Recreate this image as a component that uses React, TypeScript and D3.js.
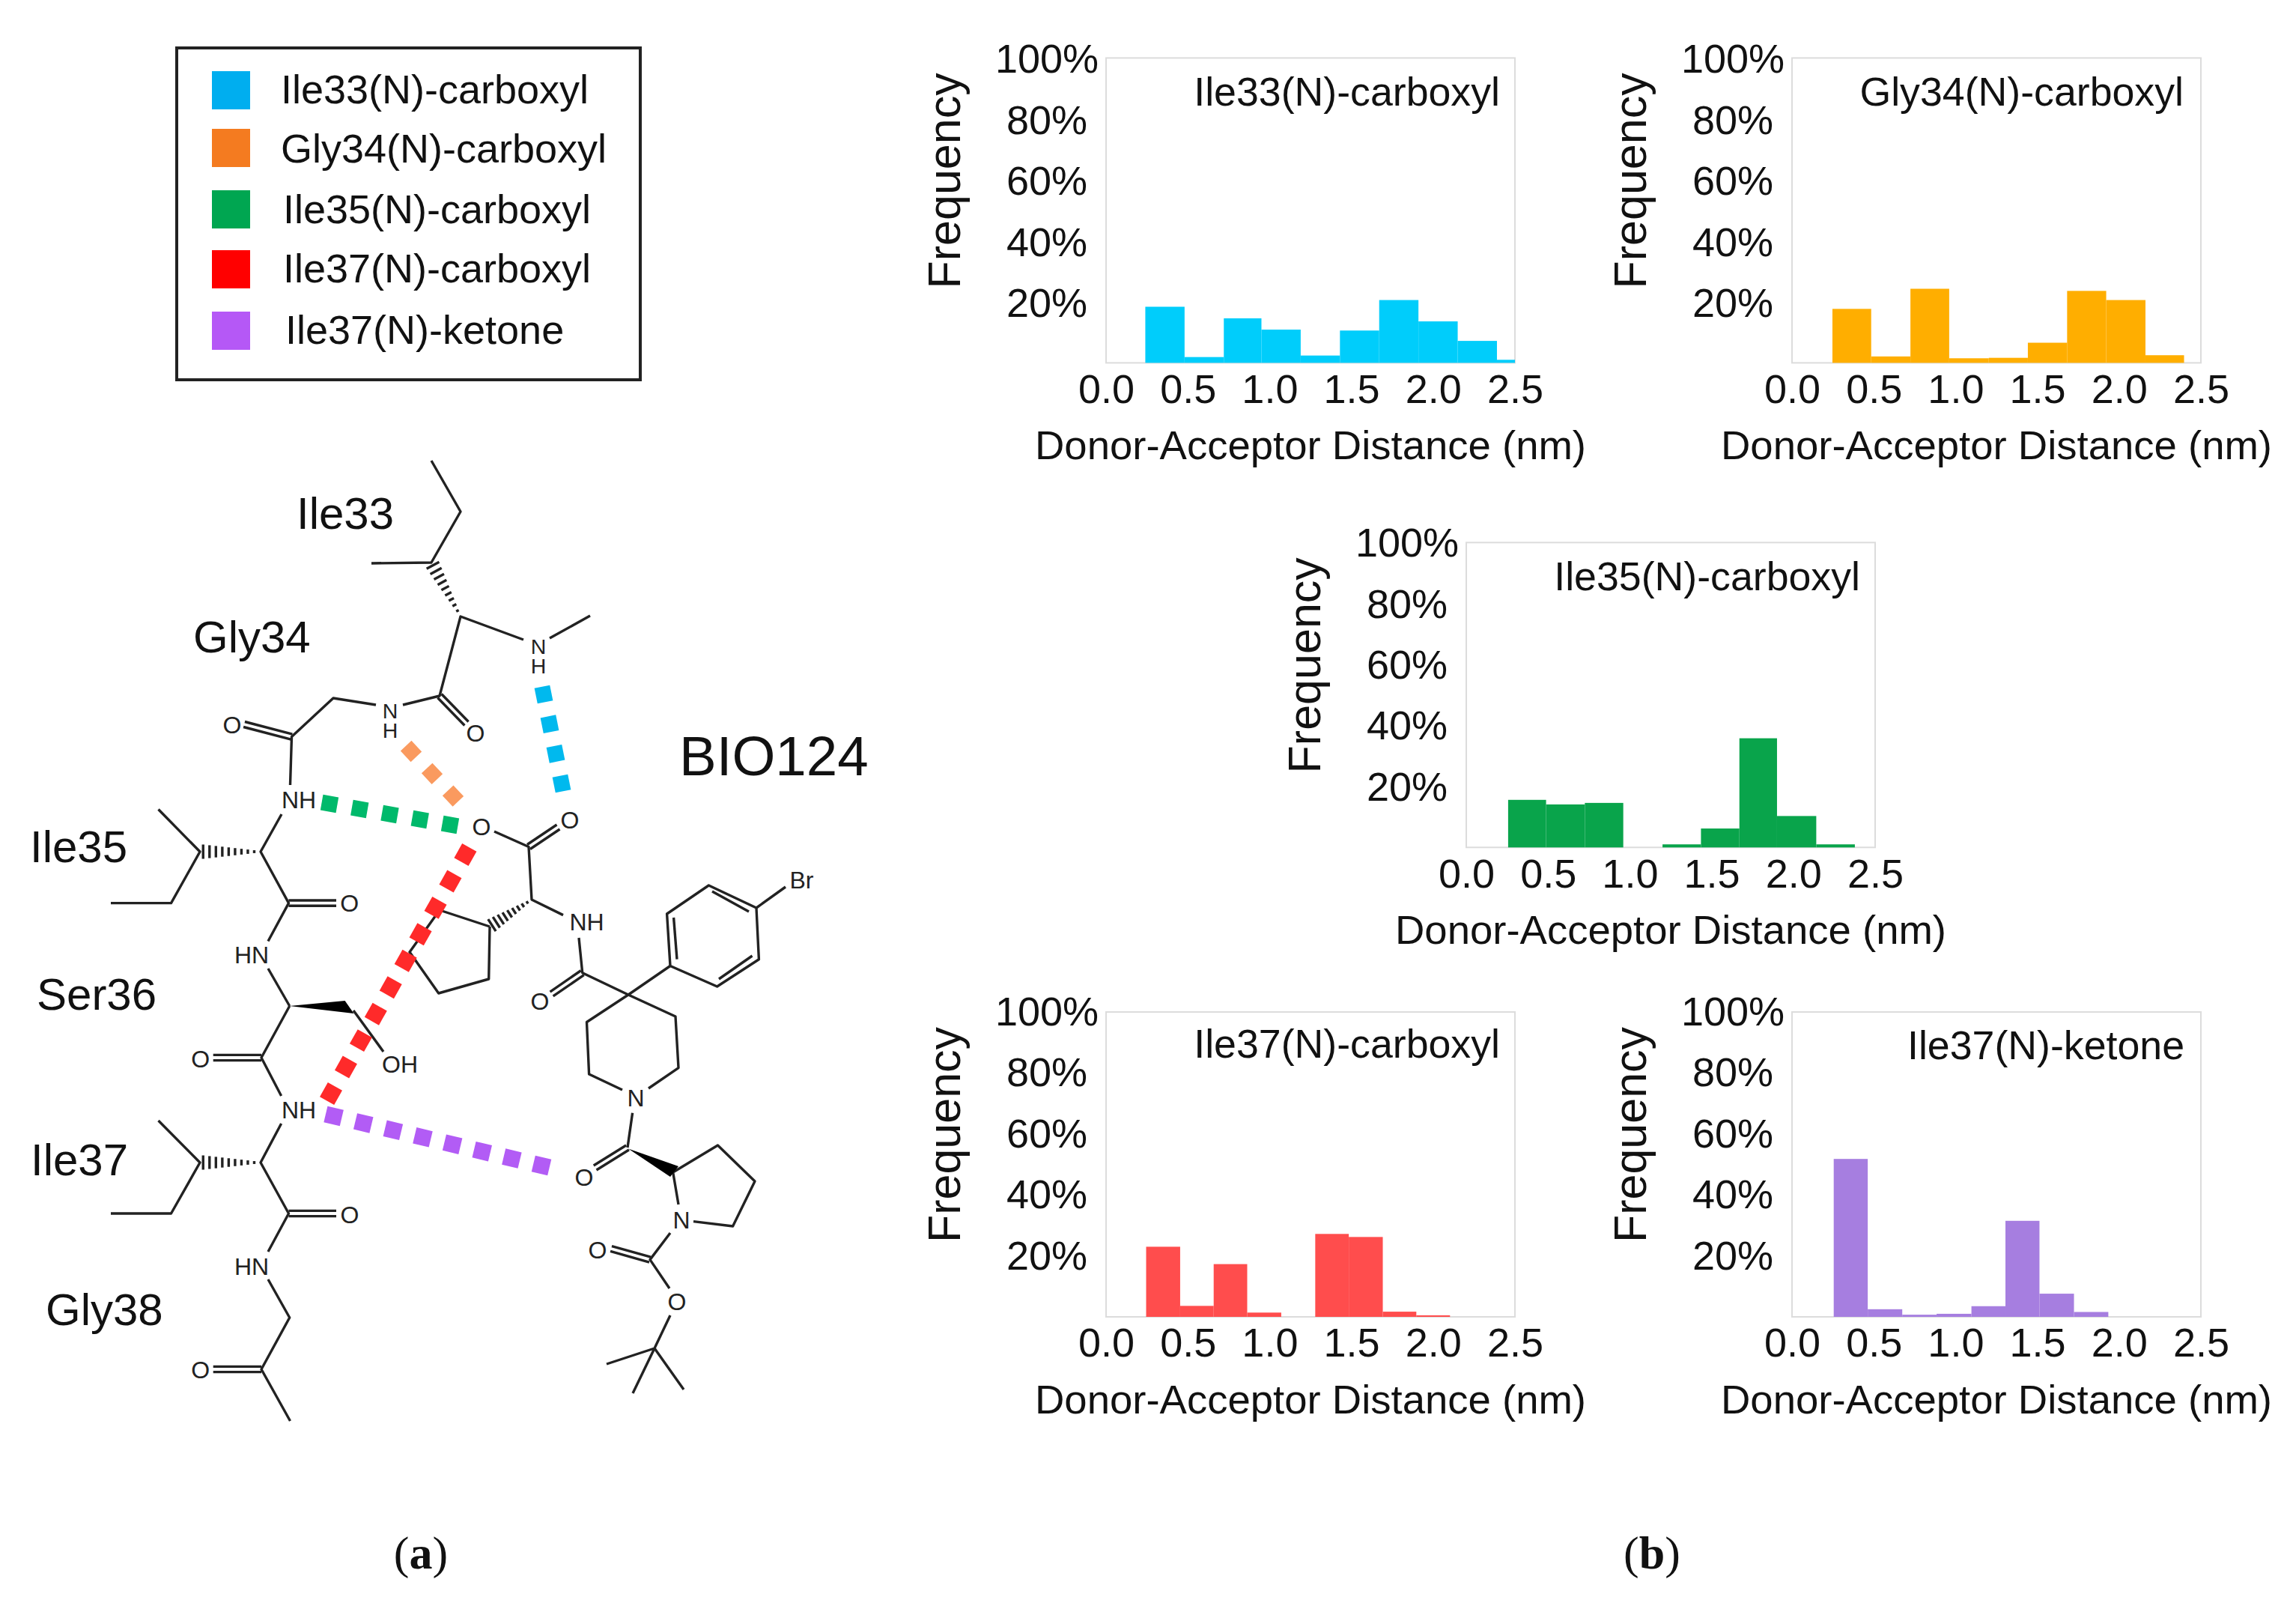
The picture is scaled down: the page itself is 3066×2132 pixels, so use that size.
import React, { useEffect, useRef } from "react"
import * as d3 from "d3"

type Pt = [number, number]

const WIDTH = 3066
const HEIGHT = 2132
const SANS = "'Liberation Sans', Arial, sans-serif"
const SERIF = "'Liberation Serif', 'Times New Roman', serif"

// histogram data, bin edges in nm and frequency in %
const edgesIle33 = [0.24, 0.48, 0.72, 0.95, 1.19, 1.43, 1.67, 1.91, 2.15, 2.39, 2.5]
const freqIle33 = [18.4, 1.9, 14.6, 10.9, 2.4, 10.6, 20.6, 13.6, 7.2, 1.0]

const edgesGly34 = [0.247, 0.484, 0.724, 0.961, 1.203, 1.442, 1.682, 1.921, 2.161, 2.397]
const freqGly34 = [17.7, 2.1, 24.3, 1.5, 1.65, 6.6, 23.6, 20.6, 2.5]

const edgesIle35 = [0.256, 0.488, 0.725, 0.96, 1.2, 1.435, 1.67, 1.9, 2.14, 2.376]
const freqIle35 = [15.6, 14.1, 14.6, 0, 1.0, 6.2, 35.8, 10.3, 1.0]

const edgesIle37 = [0.245, 0.453, 0.658, 0.863, 1.071, 1.279, 1.484, 1.692, 1.897, 2.103]
const freqIle37 = [23, 3.6, 17.3, 1.4, 0, 27.2, 26.2, 1.7, 0.5]

const edgesKetone = [0.255, 0.463, 0.674, 0.884, 1.097, 1.305, 1.513, 1.724, 1.934]
const freqKetone = [51.8, 2.5, 0.7, 1.0, 3.5, 31.5, 7.6, 1.6]

const xTicks = [0, 0.5, 1, 1.5, 2, 2.5]
const yTicks = [20, 40, 60, 80, 100]

const legendNames = [
  "Ile33(N)-carboxyl",
  "Gly34(N)-carboxyl",
  "Ile35(N)-carboxyl",
  "Ile37(N)-carboxyl",
  "Ile37(N)-ketone",
]
const legendColors = ["#00aeef", "#f47b20", "#00a651", "#ff0000", "#b558f6"]
const legendTextX = [375, 375, 378, 378, 381]
const legendSwatchY = [95, 172, 254, 334, 416]
const legendBaseline = [138, 217, 298, 377, 459]

const panels = [
  { name: legendNames[0], edges: edgesIle33, freq: freqIle33, color: "#00cdfb", left: 1477, top: 77.4, titleEnd: 2003, titleY: 140.7, tickShift: 0 },
  { name: legendNames[1], edges: edgesGly34, freq: freqGly34, color: "#ffae00", left: 2393, top: 77.4, titleEnd: 2916, titleY: 140.7, tickShift: 0 },
  { name: legendNames[2], edges: edgesIle35, freq: freqIle35, color: "#09a44b", left: 1958, top: 724.3, titleEnd: 2484, titleY: 787.5, tickShift: -1 },
  { name: legendNames[3], edges: edgesIle37, freq: freqIle37, color: "#ff4d4d", left: 1477, top: 1351, titleEnd: 2003, titleY: 1412, tickShift: -2 },
  { name: legendNames[4], edges: edgesKetone, freq: freqKetone, color: "#a67ee0", left: 2393, top: 1351, titleEnd: 2917, titleY: 1413.6, tickShift: -2 },
]

// molecule in page pixels
const skeleton: Pt[][] = [
  [[576, 615], [615, 683], [576, 751], [496, 752]],
  [[699, 854], [615, 823], [587, 929], [538, 941]],
  [[734, 852], [788, 822]],
  [[502, 941], [445, 932], [389.5, 983.6], [387.5, 1048]],
  [[376, 1087], [348, 1137], [385.5, 1205.6], [358, 1256.5]],
  [[211.5, 1080.5], [267, 1137], [228.5, 1205.6], [148, 1205.6]],
  [[358, 1293], [386.7, 1343]],
  [[472, 1349], [512, 1404]],
  [[386.7, 1343], [349, 1412], [375.6, 1463]],
  [[375.6, 1500], [348, 1552], [385.5, 1620], [358, 1671]],
  [[211.5, 1496], [267, 1552], [228.5, 1620], [148, 1620]],
  [[358, 1708], [386.7, 1759], [349, 1828], [387.5, 1897]],
  [[660, 1110], [706, 1130.5], [710, 1201], [752, 1221.6]],
  [[654, 1237], [652.7, 1307], [585.7, 1326], [547, 1271], [587, 1215], [654, 1237]],
  [[773, 1252], [777.7, 1298.7], [839, 1328], [895, 1289.5]],
  [[895, 1289.5], [890.6, 1220], [946.4, 1182], [1010, 1212], [1013.4, 1280.7], [957.6, 1317], [895, 1289.5]],
  [[899.6, 1225], [904, 1280.7]],
  [[951, 1190], [1000, 1217]],
  [[960, 1307], [1004.5, 1276]],
  [[1010, 1212], [1049, 1184]],
  [[839, 1328], [783.5, 1364.5], [786.6, 1434], [831, 1455]],
  [[839, 1328], [902, 1357], [906, 1425.7], [866, 1453]],
  [[844.6, 1485.7], [838, 1532]],
  [[906, 1608], [898.7, 1565], [958.5, 1529], [1008, 1577], [978.6, 1637], [926, 1630.6]],
  [[895, 1646], [868, 1681.6], [894, 1720]],
  [[895, 1756], [874, 1800], [810, 1821]],
  [[874, 1800], [845, 1860]],
  [[874, 1800], [913, 1855]],
]

const doubleBonds: [Pt, Pt][] = [
  [[587, 929], [623, 966]],
  [[389.5, 983.6], [326, 967]],
  [[385.5, 1205.6], [449, 1205.6]],
  [[349, 1412], [284.7, 1412]],
  [[385.5, 1620], [449, 1620]],
  [[349, 1828], [284.7, 1828]],
  [[706, 1130.5], [745.5, 1104]],
  [[777.7, 1298.7], [736.6, 1327]],
  [[838, 1532], [794.6, 1559]],
  [[868, 1681.6], [816, 1667]],
]

const hashBonds: [Pt, Pt][] = [
  [[615, 823], [576, 751]],
  [[348, 1137], [267, 1137]],
  [[348, 1552], [267, 1552]],
  [[710, 1201], [654, 1237]],
]

const wedges: [Pt, Pt, Pt][] = [
  [[386.7, 1343], [460.6, 1336], [472.5, 1353]],
  [[839, 1533.5], [906, 1557], [895, 1571]],
]

const atoms: [string, number, number][] = [
  ["O", 635, 978], ["O", 310, 967],
  ["NH", 399, 1067], ["O", 466.6, 1205.6],
  ["HN", 336, 1274.4], ["OH", 534, 1420],
  ["O", 267.7, 1413.5], ["NH", 399, 1481.6],
  ["O", 467, 1621], ["HN", 336, 1690],
  ["O", 267.7, 1828.5], ["O", 643, 1103],
  ["O", 761, 1094], ["NH", 783.5, 1230],
  ["O", 721, 1336.5], ["Br", 1070.5, 1174],
  ["N", 849, 1465], ["O", 780, 1571],
  ["N", 910, 1628.6], ["O", 798, 1668],
  ["O", 904, 1737.5],
]

// N over H, written as one text
const stackedNH: Pt[] = [
  [719, 863],
  [521, 949],
]

const residues: [string, number, number][] = [
  ["Ile33", 396, 706],
  ["Gly34", 258, 871],
  ["Ile35", 40, 1151],
  ["Ser36", 49, 1348],
  ["Ile37", 41, 1569],
  ["Gly38", 61, 1769],
]

// hydrogen bond dashes, first and last square centre plus the count
const hbonds: { color: string; from: Pt; to: Pt; count: number; size: number }[] = [
  { color: "#00b9ee", from: [726, 927], to: [750, 1046], count: 4, size: 21 },
  { color: "#fa9a5f", from: [549, 1003], to: [605, 1062.6], count: 3, size: 20 },
  { color: "#00b96b", from: [440, 1073], to: [601, 1101], count: 5, size: 21 },
  { color: "#ff2a2a", from: [621.4, 1141], to: [442, 1460], count: 10, size: 22 },
  { color: "#b25cf5", from: [445.6, 1490], to: [723, 1556], count: 8, size: 22 },
]

const PLOT_W = 546
const PLOT_H = 407

function drawPanel(svg, p) {
  const g = svg.append("g").attr("transform", `translate(${p.left},${p.top})`)
  const x = d3.scaleLinear().domain([0, 2.5]).range([0, PLOT_W])
  const y = d3.scaleLinear().domain([0, 100]).range([PLOT_H, 0])

  g.append("rect")
    .attr("width", PLOT_W)
    .attr("height", PLOT_H)
    .attr("fill", "none")
    .attr("stroke", "#dcdcdc")
    .attr("stroke-width", 2)

  g.selectAll("rect.bar")
    .data(p.freq)
    .enter()
    .append("rect")
    .attr("class", "bar")
    .attr("x", (d, i) => x(p.edges[i]))
    .attr("width", (d, i) => x(p.edges[i + 1] ?? p.edges[i] + 0.21) - x(p.edges[i]))
    .attr("y", d => y(d))
    .attr("height", d => y(0) - y(d))
    .attr("fill", p.color)

  const xAxis = d3
    .axisBottom(x)
    .tickValues(xTicks)
    .tickSize(0)
    .tickPadding(15)
    .tickFormat(d3.format(".1f"))
  const yAxis = d3
    .axisLeft(y)
    .tickValues(yTicks)
    .tickSize(0)
    .tickFormat(d => d + "%")

  const xg = g.append("g").attr("transform", `translate(0,${PLOT_H})`).call(xAxis)
  const yg = g.append("g").call(yAxis)
  xg.select(".domain").remove()
  yg.select(".domain").remove()
  xg.selectAll("text").attr("font-size", 54).attr("font-family", SANS).attr("fill", "#111")
  yg.selectAll("text")
    .attr("font-size", 54)
    .attr("font-family", SANS)
    .attr("fill", "#111")
    .attr("text-anchor", "middle")
    .attr("x", -79)
    .attr("y", p.tickShift)
    .attr("dy", "0.36em")

  g.append("text")
    .attr("x", PLOT_W / 2)
    .attr("y", PLOT_H + 129)
    .attr("text-anchor", "middle")
    .attr("font-size", 54.5)
    .attr("font-family", SANS)
    .attr("fill", "#111")
    .text("Donor-Acceptor Distance (nm)")

  g.append("text")
    .attr("transform", "translate(-195,164) rotate(-90)")
    .attr("text-anchor", "middle")
    .attr("font-size", 61)
    .attr("font-family", SANS)
    .attr("fill", "#111")
    .text("Frequency")

  svg.append("text")
    .attr("x", p.titleEnd)
    .attr("y", p.titleY)
    .attr("text-anchor", "end")
    .attr("font-size", 53.7)
    .attr("font-family", SANS)
    .attr("fill", "#111")
    .text(p.name)
}

function drawLegend(svg) {
  svg.append("rect")
    .attr("x", 236)
    .attr("y", 64)
    .attr("width", 619)
    .attr("height", 443)
    .attr("fill", "#fff")
    .attr("stroke", "#222")
    .attr("stroke-width", 4)

  svg.selectAll("rect.swatch")
    .data(legendColors)
    .enter()
    .append("rect")
    .attr("class", "swatch")
    .attr("x", 283)
    .attr("y", (d, i) => legendSwatchY[i])
    .attr("width", 51)
    .attr("height", 51)
    .attr("fill", d => d)

  svg.selectAll("text.legend")
    .data(legendNames)
    .enter()
    .append("text")
    .attr("class", "legend")
    .attr("x", (d, i) => legendTextX[i])
    .attr("y", (d, i) => legendBaseline[i])
    .attr("font-size", 54)
    .attr("font-family", SANS)
    .attr("fill", "#111")
    .text(d => d)
}

function drawMolecule(svg) {
  const g = svg.append("g").attr("fill", "none").attr("stroke", "#222").attr("stroke-width", 3.4)
  const line = d3.line<Pt>()

  skeleton.forEach(path => g.append("path").attr("d", line(path)).attr("stroke-linejoin", "round"))

  doubleBonds.forEach(([a, b]) => {
    const len = Math.hypot(b[0] - a[0], b[1] - a[1])
    const ox = (-(b[1] - a[1]) / len) * 3.6
    const oy = ((b[0] - a[0]) / len) * 3.6
    ;[-1, 1].forEach(s => {
      g.append("path").attr(
        "d",
        line([
          [a[0] + s * ox, a[1] + s * oy],
          [b[0] + s * ox, b[1] + s * oy],
        ])
      )
    })
  })

  hashBonds.forEach(([a, b]) => {
    const len = Math.hypot(b[0] - a[0], b[1] - a[1])
    const nx = -(b[1] - a[1]) / len
    const ny = (b[0] - a[0]) / len
    d3.range(1, 10).forEach(i => {
      const t = i / 9.5
      const cx = a[0] + (b[0] - a[0]) * t
      const cy = a[1] + (b[1] - a[1]) * t
      const half = 1 + t * 9
      g.append("path").attr(
        "d",
        line([
          [cx - nx * half, cy - ny * half],
          [cx + nx * half, cy + ny * half],
        ])
      )
    })
  })

  wedges.forEach(w => {
    g.append("path").attr("d", line(w) + "Z").attr("fill", "#000").attr("stroke", "none")
  })

  svg.selectAll("text.atom")
    .data(atoms)
    .enter()
    .append("text")
    .attr("class", "atom")
    .attr("x", d => d[1])
    .attr("y", d => d[2] + 11.5)
    .attr("text-anchor", "middle")
    .attr("font-size", 32)
    .attr("font-family", SANS)
    .attr("fill", "#222")
    .text(d => d[0])

  stackedNH.forEach(([ax, ay]) => {
    const t = svg.append("text")
      .attr("text-anchor", "middle")
      .attr("font-size", 28.5)
      .attr("font-family", SANS)
      .attr("fill", "#222")
    t.append("tspan").attr("x", ax).attr("y", ay + 10).text("N")
    t.append("tspan").attr("x", ax).attr("y", ay + 36).text("H")
  })

  svg.selectAll("text.residue")
    .data(residues)
    .enter()
    .append("text")
    .attr("class", "residue")
    .attr("x", d => d[1])
    .attr("y", d => d[2])
    .attr("font-size", 60)
    .attr("font-family", SANS)
    .attr("fill", "#111")
    .text(d => d[0])

  svg.append("text")
    .attr("x", 907)
    .attr("y", 1035)
    .attr("font-size", 74.5)
    .attr("font-family", SANS)
    .attr("fill", "#111")
    .text("BIO124")

  hbonds.forEach(h => {
    const angle = (Math.atan2(h.to[1] - h.from[1], h.to[0] - h.from[0]) * 180) / Math.PI
    d3.range(h.count).forEach(i => {
      const t = i / (h.count - 1)
      const cx = h.from[0] + (h.to[0] - h.from[0]) * t
      const cy = h.from[1] + (h.to[1] - h.from[1]) * t
      svg.append("rect")
        .attr("x", -h.size / 2)
        .attr("y", -h.size / 2)
        .attr("width", h.size)
        .attr("height", h.size)
        .attr("fill", h.color)
        .attr("transform", `translate(${cx},${cy}) rotate(${angle})`)
    })
  })
}

function drawCaption(svg, x: number, letter: string) {
  const t = svg.append("text")
    .attr("x", x)
    .attr("y", 2094)
    .attr("text-anchor", "middle")
    .attr("font-size", 62)
    .attr("font-family", SERIF)
    .attr("fill", "#111")
  t.append("tspan").text("(")
  t.append("tspan").attr("font-weight", "bold").text(letter)
  t.append("tspan").text(")")
}

export default function App() {
  const ref = useRef<SVGSVGElement>(null)

  useEffect(() => {
    if (ref.current == null) return
    const svg = d3.select(ref.current)
    svg.selectAll("*").remove()
    svg.append("rect").attr("width", WIDTH).attr("height", HEIGHT).attr("fill", "#fff")
    drawLegend(svg)
    drawMolecule(svg)
    panels.forEach(p => drawPanel(svg, p))
    drawCaption(svg, 562, "a")
    drawCaption(svg, 2206, "b")
  }, [])

  return (
    <svg
      ref={ref}
      width={WIDTH}
      height={HEIGHT}
      style={{ position: "absolute", left: 0, top: 0 }}
    />
  )
}
